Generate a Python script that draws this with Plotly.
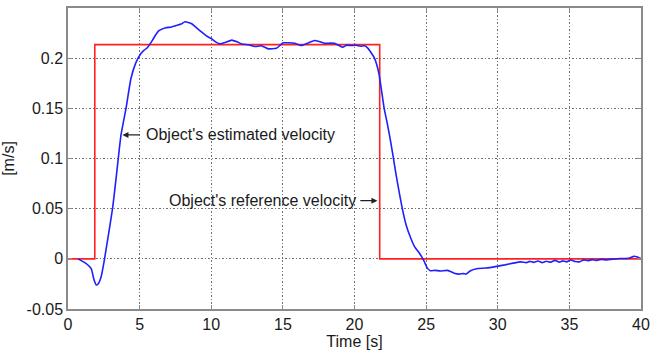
import plotly.graph_objects as go

# Reference (commanded) velocity: a step up and a step back down
ref_time = [0.0, 1.87, 1.87, 21.76, 21.76, 40.0]
ref_vel = [0.0, 0.0, 0.2135, 0.2135, 0.0, 0.0]

# Estimated velocity of the object
est_time = [0.7, 1.2, 1.62, 1.8, 1.97, 2.1, 2.31, 2.54, 2.8, 3.12, 3.4, 3.7, 4.05, 4.39,
            4.74, 5.09, 5.3, 5.55, 5.89, 6.1, 6.35, 6.82, 7.2, 7.51, 7.9, 8.16, 8.4, 8.66,
            9.0, 9.36, 9.7, 10.05, 10.3, 10.63, 11.0, 11.43, 11.8, 12.13, 12.6, 13.06, 13.5,
            13.98, 14.55, 15.02, 15.4, 15.83, 16.29, 16.8, 17.21, 17.6, 17.91, 18.3, 18.6,
            18.9, 19.18, 19.45, 19.75, 20.1, 20.44, 20.7, 20.91, 21.15, 21.37, 21.55, 21.72,
            21.9, 22.07, 22.3, 22.52, 22.7, 22.87, 23.1, 23.33, 23.6, 23.91, 24.2, 24.49,
            24.84, 25.07, 25.29, 25.6, 25.99, 26.5, 27.03, 27.3, 27.6, 27.8, 28.1, 28.53,
            29.2, 29.92, 30.5, 31.07, 31.6, 32.0, 32.23, 32.5, 32.8, 33.1, 33.38, 33.7, 34.0,
            34.3, 34.54, 34.8, 35.1, 35.4, 35.7, 36.0, 36.3, 36.6, 36.85, 37.2, 37.6, 38.0,
            38.5, 39.15, 39.5, 39.7, 40.0]
est_vel = [0.0, -0.004, -0.0098, -0.02, -0.026, -0.025, -0.018, -0.001, 0.022, 0.051,
           0.086, 0.1235, 0.150, 0.1795, 0.1955, 0.2047, 0.2077, 0.2107, 0.2178, 0.2228,
           0.2274, 0.2304, 0.2309, 0.2324, 0.234, 0.2363, 0.2355, 0.234, 0.2299, 0.2257,
           0.2218, 0.2191, 0.2163, 0.2142, 0.2158, 0.218, 0.2163, 0.2142, 0.2133, 0.2116,
           0.2123, 0.2093, 0.2098, 0.2153, 0.2153, 0.2148, 0.2126, 0.2153, 0.2176, 0.2163,
           0.2148, 0.215, 0.2148, 0.2128, 0.2109, 0.213, 0.2126, 0.2128, 0.2119, 0.2123,
           0.2103, 0.2057, 0.2007, 0.1936, 0.1835, 0.1664, 0.150, 0.1341, 0.117, 0.1018,
           0.0866, 0.068, 0.0506, 0.034, 0.0212, 0.012, 0.0065, -0.0017, -0.009, -0.0118,
           -0.0115, -0.0121, -0.0115, -0.0147, -0.0152, -0.0147, -0.0152, -0.0118, -0.0098,
           -0.0092, -0.0075, -0.006, -0.0043, -0.003, -0.0038, -0.0025, -0.0035, -0.0022,
           -0.0038, -0.0024, -0.0034, -0.0015, -0.0033, -0.002, -0.003, -0.0012, -0.0026,
           -0.003, -0.001, -0.0018, -0.0008, -0.0016, -0.0005, -0.001, -0.0004, 0.0003,
           0.0006, 0.0025, 0.002, 0.0001]

x_ticks = [0, 5, 10, 15, 20, 25, 30, 35, 40]
y_ticks = [-0.05, 0, 0.05, 0.1, 0.15, 0.2]
y_tick_text = ["-0.05", "0", "0.05", "0.1", "0.15", "0.2"]

FONT = "Liberation Sans, Arial, sans-serif"
FRAME = "#8a8a8a"
GRID = "#707070"
TEXT = "#1a1a1a"

fig = go.Figure()
fig.add_trace(go.Scatter(x=ref_time, y=ref_vel, mode="lines",
                         line=dict(color="#ff2020", width=1.6), hoverinfo="skip"))
fig.add_trace(go.Scatter(x=est_time, y=est_vel, mode="lines",
                         line=dict(color="#1f1fff", width=1.6, shape="spline", smoothing=0.4),
                         hoverinfo="skip"))

axis_common = dict(
    showline=True, linecolor=FRAME, linewidth=1.5, mirror="ticks",
    ticks="inside", ticklen=4, tickcolor=FRAME, tickwidth=1,
    showgrid=True, gridcolor=GRID, gridwidth=1, griddash="1.5px,2px",
    zeroline=False, tickfont=dict(family=FONT, size=16, color=TEXT),
)

fig.update_xaxes(range=[0, 40], tickvals=x_ticks, **axis_common,
                 title=dict(text="Time [s]", font=dict(family=FONT, size=16, color=TEXT),
                            standoff=4))
fig.update_yaxes(range=[-0.05, 0.25], tickvals=y_ticks, ticktext=y_tick_text, **axis_common,
                 title=dict(text="[m/s]", font=dict(family=FONT, size=16, color=TEXT),
                            standoff=8))

ann_font = dict(family=FONT, size=16, color=TEXT)
# Label for the estimated curve, with a left-pointing arrow
fig.add_annotation(x=5.3, y=0.1235, text="Object's estimated velocity", showarrow=False,
                   xanchor="left", yanchor="middle", font=ann_font)
fig.add_annotation(x=3.8, y=0.1235, ax=5.1, ay=0.1235, axref="x", ayref="y", text="",
                   showarrow=True, arrowhead=2, arrowsize=1, arrowwidth=1.2,
                   arrowcolor="#222222")
# Label for the reference step, with a right-pointing arrow
fig.add_annotation(x=20.25, y=0.058, text="Object's reference velocity", showarrow=False,
                   xanchor="right", yanchor="middle", font=ann_font)
fig.add_annotation(x=21.6, y=0.058, ax=20.3, ay=0.058, axref="x", ayref="y", text="",
                   showarrow=True, arrowhead=2, arrowsize=1, arrowwidth=1.2,
                   arrowcolor="#222222")

fig.update_layout(
    width=656, height=355,
    margin=dict(l=68, r=11, t=6, b=46),
    paper_bgcolor="white", plot_bgcolor="white",
    showlegend=False,
)

fig.write_html("out.html")
